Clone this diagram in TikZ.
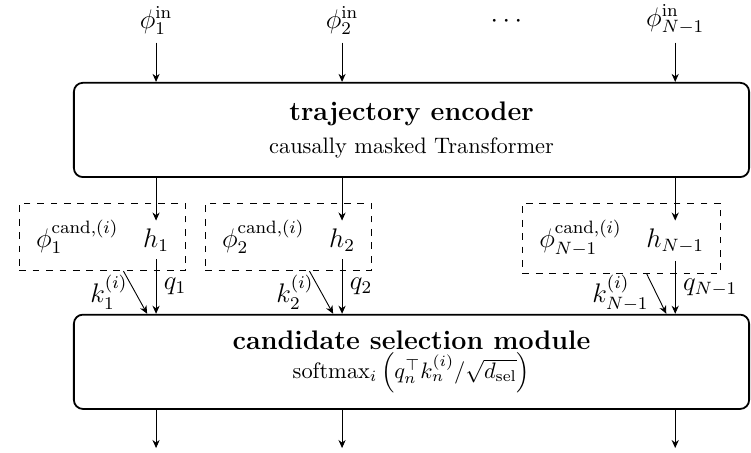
\documentclass[tikz,border=0pt]{standalone}
\usepackage{amsmath,amssymb}
\usetikzlibrary{arrows.meta,positioning,fit,calc}

\begin{document}
\begin{tikzpicture}[every node/.style={font=\large}, >={Stealth[length=3.6pt,width=3.2pt]},
	block/.style={draw, thick, rounded corners, minimum width=10.6cm, minimum height=1.48cm, align=center, font=\normalsize},
	group/.style={draw, dashed, inner sep=4pt}]
	\useasboundingbox (0,0) rectangle (11.79,7.11);
	\node[block] (enc) at (6.46,5.07) {{\large\bfseries trajectory encoder}\\[3pt] causally masked Transformer};
	\node[block] (sel) at (6.46,1.43) {{\large\bfseries candidate selection module}\\[1pt] $\mathrm{softmax}_i\left(q_n^\top k_n^{(i)}/\sqrt{d_{\mathrm{sel}}}\right)$};
	\foreach \i/\x/\s in {1/2.45/1, 2/5.37/2, 3/10.60/N-1} {
		\node[anchor=south] (in\i) at (\x,6.44) {$\phi_{\s}^{\mathrm{in}}$};
		\node[anchor=base] (h\i) at (\x,3.23) {$h_{\s}$};
		\node[base left=0.14cm of h\i] (c\i) {$\phi_{\s}^{\mathrm{cand},(i)}$};
		\node[group, fit=(c\i)(h\i)] (g\i) {};
		\coordinate (o\i) at ($(sel.south -| h\i)+(0,-0.6)$);
		\draw[->] (in\i) -- (enc.north -| in\i);
		\draw[->] (enc.south -| h\i) -- (h\i);
		\draw[->] (h\i) -- (h\i |- sel.north) node[midway, right] {$q_{\s}$};
		\draw[->] ($(g\i.south west)!0.625!(g\i.south east)$) -- ($(h\i |- sel.north)+(-0.14,0)$) node[midway, left] {$k_{\s}^{(i)}$};
		\draw[->] (sel.south -| h\i) -- (o\i);
	}
	\node[anchor=base] (dots) at ($(in2.base)!0.5!(in3.base)$) {$\cdots$};
\end{tikzpicture}
\end{document}
